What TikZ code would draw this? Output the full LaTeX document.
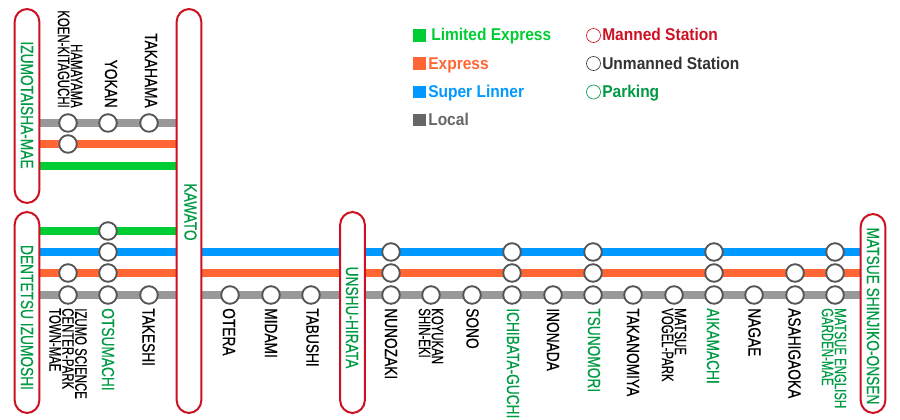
\documentclass[tikz,border=0pt]{standalone}
\usepackage{fontspec}
\usetikzlibrary{backgrounds}
\setmainfont{Liberation Sans}
\newfontfamily\stnFont[FakeStretch=0.78,FakeBold=0.35]{Liberation Sans}
\newfontfamily\stnNarrowFont[FakeStretch=0.69,FakeBold=0.3]{Liberation Sans}
\newfontfamily\keyFont[FakeStretch=0.91]{Liberation Sans}
\definecolor{lineGreen}{HTML}{00CC33}
\definecolor{lineOrange}{HTML}{FF6633}
\definecolor{lineBlue}{HTML}{0099FF}
\definecolor{lineGrey}{HTML}{999999}
\definecolor{keyGrey}{HTML}{666666}
\definecolor{stnRing}{HTML}{555555}
\definecolor{capsuleRed}{HTML}{CC1122}
\definecolor{parkGreen}{HTML}{009944}
\definecolor{unmanText}{HTML}{333333}
\tikzset{
  capsule/.style={draw=capsuleRed, fill=white, line width=1.5pt, rounded corners=9.5pt,
    minimum width=18.5pt, inner sep=0pt},
  capLabel/.style={rotate=-90, inner sep=0pt, text=parkGreen, font=\stnFont\fontsize{13.2pt}{9.5pt}\selectfont},
  stn/.style={circle, draw=stnRing, fill=white, line width=1.4pt, minimum size=13.2pt, inner sep=0pt},
  stnLabel/.style={rotate=-90, inner sep=0pt, font=\stnFont\fontsize{13.2pt}{9.5pt}\selectfont},
  stnLabelTwo/.style={rotate=-90, inner sep=0pt, font=\stnNarrowFont\fontsize{12.4pt}{9.7pt}\selectfont},
  railGreen/.style={lineGreen, line width=6.2pt},
  railOrange/.style={lineOrange, line width=6.2pt},
  railBlue/.style={lineBlue, line width=6.2pt},
  railGrey/.style={lineGrey, line width=6.2pt},
  keySquare/.style={minimum size=9.7pt, inner sep=0pt},
  keyDot/.style={circle, fill=white, line width=0.5pt, minimum size=10.5pt, inner sep=0pt},
  keyText/.style={anchor=base west, inner sep=0pt, font=\keyFont\bfseries\fontsize{12.8pt}{13pt}\selectfont},
}
\begin{document}
\begin{tikzpicture}[x=0.75pt, y=-0.75pt]
\useasboundingbox (0,0) rectangle (900,420);

% --- LEVELS ---
\coordinate (topLocal) at (0,123);
\coordinate (topExpress) at (0,144);
\coordinate (topLimited) at (0,166);
\coordinate (lowLimited) at (0,231);
\coordinate (lowSuper) at (0,252);
\coordinate (lowExpress) at (0,273);
\coordinate (lowLocal) at (0,295);

% --- TERMINAL CAPSULES ---
\foreach \id/\cx/\top/\bot in {izumo/27/9/203, kawato/189/9/413, dentetsu/27/212/413,
    unshu/352.5/212/413, matsue/873/214/413} {
  \pgfmathsetmacro\cy{(\top+\bot)/2}
  \pgfmathsetmacro\hgt{(\bot-\top)*0.75}
  \node[capsule, minimum height=\hgt pt] (\id) at (\cx,\cy) {};
}
\node[capLabel] (izumoName) at (27,105) {IZUMOTAISHA-MAE};
\node[capLabel] (kawatoName) at (190.5,212) {KAWATO};
\node[capLabel] (dentetsuName) at (27,317.5) {DENTETSU IZUMOSHI};
\node[capLabel] (unshuName) at (352,317.5) {UNSHU-HIRATA};
\node[capLabel] (matsueName) at (873,316) {MATSUE SHINJIKO-ONSEN};

% --- STATIONS ---
\foreach \cx in {68,108,149} \node[stn] (topLocal\cx) at (\cx,123) {};
\node[stn] (topExpress68) at (68,144) {};
\node[stn] (lowLimited108) at (108,231) {};
\foreach \cx in {108,391,512,593,714,835} \node[stn] (lowSuper\cx) at (\cx,252) {};
\foreach \cx in {68,108,391,512,593,714,795,835} \node[stn] (lowExpress\cx) at (\cx,273) {};
\foreach \cx in {68,108,149,230,271,311,391,431,472,512,553,593,633,674,714,754,795,835}
  \node[stn] (lowLocal\cx) at (\cx,295) {};

% --- RAILS ---
\begin{scope}[on background layer]
  \draw[railGrey] (izumo.east |- topLocal) -- (kawato.west |- topLocal);
  \draw[railOrange] (izumo.east |- topExpress) -- (kawato.west |- topExpress);
  \draw[railGreen] (izumo.east |- topLimited) -- (kawato.west |- topLimited);
  \draw[railGreen] (dentetsu.east |- lowLimited) -- (kawato.west |- lowLimited);
  \draw[railBlue] (dentetsu.east |- lowSuper) -- (matsue.west |- lowSuper);
  \draw[railOrange] (dentetsu.east |- lowExpress) -- (matsue.west |- lowExpress);
  \draw[railGrey] (dentetsu.east |- lowLocal) -- (matsue.west |- lowLocal);
\end{scope}

% --- NAMES ABOVE ---
\node[stnLabelTwo, anchor=east, align=right] (hamayamaName) at (70,108) {HAMAYAMA\\KOEN-KITAGUCHI};
\node[stnLabel, anchor=east] (yokanName) at (111,108) {YOKAN};
\node[stnLabel, anchor=east] (takahamaName) at (151,108) {TAKAHAMA};

% --- NAMES BELOW ---
\foreach \cx/\name in {148.5/TAKESHI, 229/OTERA, 271/MIDAMI, 312.5/TABUSHI, 391/NUNOZAKI,
    472.5/SONO, 553/INONADA, 633/TAKANOMIYA, 754.5/NAGAE, 794.5/ASAHIGAOKA}
  \node[stnLabel, anchor=west] (n\name) at (\cx,308) {\name};
\foreach \cx/\name in {108/OTSUMACHI, 513/ICHIBATA-GUCHI, 594/TSUNOMORI, 713/AIKAMACHI}
  \node[stnLabel, anchor=west, text=parkGreen] (n\name) at (\cx,308) {\name};
\node[stnLabelTwo, anchor=west, align=left] (scienceName) at (68,308) {IZUMO SCIENCE\\CENTER-PARK\\TOWN-MAE};
\node[stnLabelTwo, anchor=west, align=left] (koyukanName) at (431,308) {KOYUKAN\\SHIN-EKI};
\node[stnLabelTwo, anchor=west, align=left] (vogelName) at (674,308) {MATSUE\\VOGEL-PARK};
\node[stnLabelTwo, anchor=west, align=left, text=parkGreen] (englishName) at (834,308) {MATSUE ENGLISH\\GARDEN-MAE};

% --- KEY ---
\node[keySquare, fill=lineGreen] (keyLimited) at (419.5,35.5) {};
\node[keySquare, fill=lineOrange] (keyExpress) at (419.5,63.5) {};
\node[keySquare, fill=lineBlue] (keySuper) at (419.5,92) {};
\node[keySquare, fill=keyGrey] (keyLocal) at (419.5,120) {};
\node[keyText, text=lineGreen] (keyLimitedText) at (431,41) {Limited Express};
\node[keyText, text=lineOrange] (keyExpressText) at (428,69.5) {Express};
\node[keyText, text=lineBlue] (keySuperText) at (428,97.5) {Super Linner};
\node[keyText, text=keyGrey] (keyLocalText) at (428,125.5) {Local};
\node[keyDot, draw=capsuleRed] (keyManned) at (593.5,35.5) {};
\node[keyDot, draw=unmanText] (keyUnmanned) at (593.5,63.5) {};
\node[keyDot, draw=parkGreen] (keyParking) at (593.5,92) {};
\node[keyText, text=capsuleRed] (keyMannedText) at (602,41) {Manned Station};
\node[keyText, text=unmanText] (keyUnmannedText) at (602,69.5) {Unmanned Station};
\node[keyText, text=parkGreen] (keyParkingText) at (602,97.5) {Parking};

\end{tikzpicture}
\end{document}
